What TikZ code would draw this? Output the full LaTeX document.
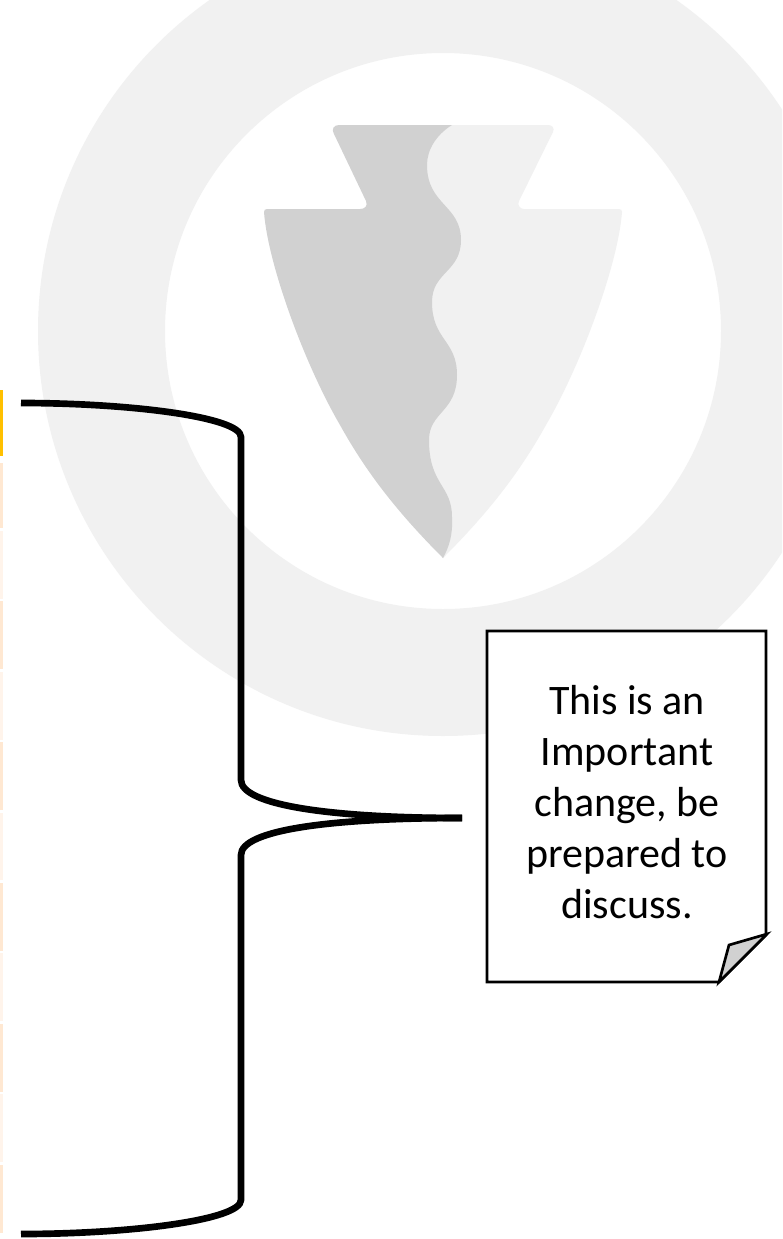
\documentclass[tikz,border=0pt]{standalone}
\usepackage{fontspec}
\setmainfont{Carlito}
\definecolor{ring}{HTML}{F1F1F1}
\definecolor{headdark}{HTML}{D1D1D1}
\definecolor{headlight}{HTML}{F1F1F1}
\definecolor{stripA}{HTML}{FFE8D2}
\definecolor{stripB}{HTML}{FFF4EB}
\definecolor{stripTop}{HTML}{FFC000}
\tikzset{
  bracket/.style={draw=black,line width=5pt,line join=round},
  notebox/.style={draw=black,line width=2pt,fill=white,line join=miter},
  notetext/.style={align=center,font=\fontsize{31.5}{38.4}\selectfont,text=black,inner sep=0pt},
}
\newcommand{\stripbar}[3]{\fill[#1] (0,#2) rectangle (3,#3);}
\begin{document}
\begin{tikzpicture}[x=0.75pt,y=-0.75pt]
\useasboundingbox (0,0) rectangle (782,1239);
\begin{scope}
\clip (0,0) rectangle (782,1239);
\fill[white] (0,0) rectangle (782,1239);
\fill[ring,even odd rule] (443,331) circle[radius=405] (443,331) circle[radius=278];
% arrowhead light
\fill[headlight] (400,125) -- (548,125) .. controls (552,125) and (555,128) .. (553,132)
  -- (519,201) .. controls (517,205) and (520,209) .. (524,209)
  -- (619,209) .. controls (621,209) and (622,210) .. (622,212)
  .. controls (618,265) and (581,365) .. (546,425)
  .. controls (521,470) and (491,510) .. (443,558)
  -- (400,400) -- cycle;
% arrowhead dark
\fill[headdark] (452,125) .. controls (436,135) and (427,150) .. (427,165)
  .. controls (427,205) and (461,205) .. (461,240)
  .. controls (461,272) and (432,272) .. (432,302)
  .. controls (432,340) and (457,340) .. (457,375)
  .. controls (457,412) and (429,412) .. (429,440)
  .. controls (429,485) and (452,485) .. (452,517)
  .. controls (453,535) and (449,547) .. (443,558)
  .. controls (395,510) and (365,470) .. (340,425)
  .. controls (305,365) and (268,265) .. (264,212)
  .. controls (264,210) and (265,209) .. (267,209)
  -- (360,209) .. controls (365,209) and (368,206) .. (366,201)
  -- (334,134) .. controls (331,129) and (334,125) .. (339,125) -- cycle;
\end{scope}
% side strips
\stripbar{stripTop}{390}{456}
\stripbar{stripA}{463}{528}
\stripbar{stripB}{531}{599}
\stripbar{stripA}{601}{669}
\stripbar{stripB}{672}{740}
\stripbar{stripA}{742}{810}
\stripbar{stripB}{813}{880}
\stripbar{stripA}{883}{951}
\stripbar{stripB}{953}{1021}
\stripbar{stripA}{1024}{1092}
\stripbar{stripB}{1094}{1162}
\stripbar{stripA}{1165}{1233}
% bracket
\coordinate (brTop) at (21,403);
\coordinate (brTip) at (462,818);
\coordinate (brBot) at (21,1234);
\draw[bracket] (brTop) .. controls (130,403) and (241,417) .. (241,437)
  -- (241,780) .. controls (241,805) and (330,818) .. (brTip);
\draw[bracket] (brTip) .. controls (330,818) and (241,830) .. (241,855)
  -- (241,1200) .. controls (241,1220) and (130,1234) .. (brBot);
% note
\draw[notebox] (487,631) -- (766,631) -- (766,935) -- (719,982) -- (487,982) -- cycle;
\draw[line width=2pt,fill=headdark,line join=miter] (719,982) -- (729,945) -- (767,934) -- cycle;
\node[notetext] (note) at (627,802) {This is an\\Important\\change, be\\prepared to\\discuss.};
\end{tikzpicture}
\end{document}
